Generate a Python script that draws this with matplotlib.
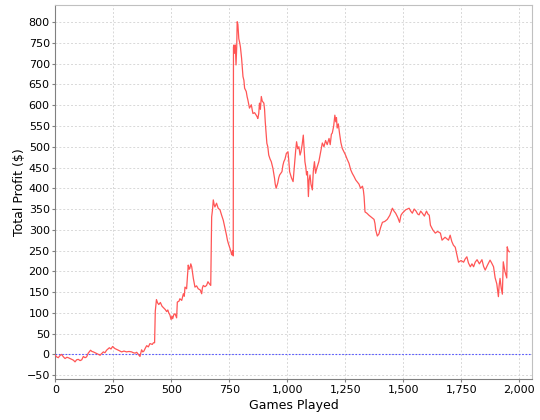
import matplotlib
matplotlib.use('Agg')
import matplotlib.pyplot as plt
import matplotlib.ticker as mticker
import numpy as np

# games played vs total profit
games = [0, 6, 13, 20, 27, 35, 42, 50, 56, 64, 71, 78, 85, 92, 99, 107, 114, 121, 128, 135,
         142, 152, 158, 164, 171, 178, 186, 193, 200, 207, 214, 221, 233, 240, 247, 257, 265,
         272, 286, 296, 307, 318, 329, 336, 344, 351, 358, 365, 372, 377, 382, 388, 394, 401,
         408, 418, 423, 428, 431, 436, 441, 446, 453, 460, 467, 474, 480, 485, 489, 494, 499,
         503, 506, 511, 516, 523, 526, 533, 537, 545, 552, 556, 559, 566, 573, 577, 580, 584,
         588, 595, 602, 609, 616, 625, 631, 634, 638, 645, 652, 658, 664, 670, 674, 678, 681,
         685, 688, 695, 702, 710, 717, 724, 731, 738, 742, 746, 753, 757, 760, 765, 767, 768,
         770, 773, 776, 779, 782, 784, 787, 791, 795, 798, 803, 806, 809, 813, 816, 823, 827,
         830, 837, 845, 849, 852, 859, 866, 870, 873, 877, 880, 884, 888, 892, 899, 902, 905,
         912, 916, 920, 926, 931, 938, 945, 948, 952, 959, 963, 967, 977, 981, 985, 990, 996,
         1003, 1006, 1010, 1018, 1025, 1032, 1036, 1040, 1045, 1050, 1055, 1059, 1064, 1069,
         1072, 1076, 1080, 1083, 1087, 1091, 1094, 1098, 1102, 1108, 1112, 1117, 1122, 1127,
         1136, 1143, 1151, 1158, 1165, 1172, 1180, 1185, 1190, 1194, 1200, 1205, 1209, 1212,
         1215, 1220, 1225, 1231, 1237, 1244, 1251, 1258, 1266, 1273, 1280, 1288, 1295, 1302,
         1309, 1316, 1324, 1328, 1331, 1335, 1343, 1352, 1363, 1374, 1378, 1381, 1388, 1395,
         1402, 1410, 1420, 1431, 1442, 1453, 1460, 1467, 1476, 1484, 1490, 1496, 1510, 1525,
         1532, 1539, 1547, 1555, 1562, 1568, 1575, 1582, 1591, 1600, 1606, 1612, 1617, 1627,
         1638, 1648, 1660, 1667, 1680, 1695, 1702, 1709, 1716, 1724, 1731, 1738, 1749, 1760,
         1767, 1774, 1781, 1789, 1796, 1803, 1810, 1818, 1828, 1839, 1846, 1853, 1863, 1874,
         1881, 1889, 1896, 1903, 1910, 1913, 1917, 1922, 1927, 1931, 1938, 1946, 1948, 1952,
         1957]
profit = [-2, -6, -8, -3, 0, -6, -10, -7, -8, -10, -12, -14, -18, -13, -12, -15, -13, -5, -8, -6,
          3, 10, 7, 6, 4, 2, 0, -2, 2, 6, 4, 10, 16, 13, 19, 14, 12,
          10, 6, 8, 6, 7, 6, 4, 3, 5, 0, -5, 11, 6, 8, 15, 21, 18,
          26, 24, 28, 28, 104, 132, 124, 120, 125, 116, 112, 108, 103, 107, 100, 95, 84,
          92, 86, 96, 98, 88, 126, 128, 134, 130, 146, 140, 162, 158, 215, 205, 207, 218,
          211, 183, 162, 165, 158, 155, 146, 160, 166, 163, 166, 175, 170, 166, 331, 350, 372,
          360, 355, 364, 352, 348, 335, 323, 305, 287, 275, 267, 255, 248, 240, 250, 237, 740,
          745, 725, 745, 697, 740, 801, 795, 760, 750, 740, 713, 690, 669, 660, 641, 633, 620,
          613, 593, 601, 588, 580, 582, 576, 572, 568, 580, 605, 590, 621, 610, 605, 590, 560,
          508, 500, 480, 470, 464, 448, 424, 410, 400, 413, 425, 432, 440, 455, 464, 470, 484,
          488, 470, 440, 425, 416, 464, 490, 512, 495, 500, 480, 488, 505, 528,
          500, 464, 450, 432, 440, 380, 420, 432, 410, 396, 440, 464, 436, 448,
          464, 485, 509, 500, 515, 505, 520, 505, 530, 533, 550, 576, 560, 570,
          545, 555, 533, 510, 496, 488, 480, 470, 460, 445, 436, 428, 420, 415,
          410, 400, 405, 395, 380, 343, 340, 335, 330, 325, 315, 300, 285, 290,
          305, 318, 320, 325, 335, 352, 345, 340, 330, 318, 335, 340, 348, 352,
          345, 340, 350, 345, 338, 336, 345, 340, 333, 345, 338, 335, 311, 300,
          292, 296, 292, 275, 282, 275, 287, 272, 263, 258, 240, 222, 226, 222,
          230, 235, 220, 211, 218, 211, 222, 228, 218, 228, 212, 203, 215, 227,
          220, 211, 184, 170, 139, 165, 183, 160, 145, 223, 200, 184, 259, 250,
          247]

fig = plt.figure(figsize=(5.4, 4.2), dpi=100)
ax = fig.add_axes([0.1024, 0.0969, 0.8833, 0.8919])

ax.plot(games, profit, color='#ff5555', lw=0.9, zorder=3)
ax.axhline(0, color='#5555ff', lw=0.8, ls=(0, (1.5, 1.5)), zorder=2)

ax.set_xlim(0, 2056)
ax.set_ylim(-60, 842)
ax.xaxis.set_major_locator(mticker.MultipleLocator(250))
ax.yaxis.set_major_locator(mticker.MultipleLocator(50))
ax.xaxis.set_major_formatter(mticker.FuncFormatter(lambda v, p: '{:,.0f}'.format(v)))

ax.grid(True, color='#d8d8d8', lw=0.7, ls=(0, (2, 2)))
ax.set_axisbelow(True)
for s in ['top', 'right']:
    ax.spines[s].set_color('#c0c0c0')
for s in ['left', 'bottom']:
    ax.spines[s].set_color('#808080')
ax.tick_params(labelsize=8, length=2, color='#808080', pad=2)

ax.set_xlabel('Games Played', fontsize=9, labelpad=3)
ax.set_ylabel('Total Profit ($)', fontsize=9, labelpad=0)

fig.savefig('out.png', dpi=100)
